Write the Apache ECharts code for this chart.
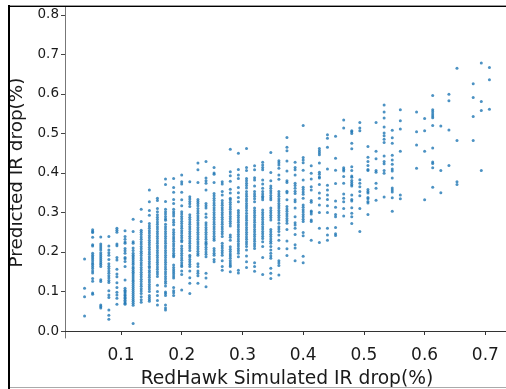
<!DOCTYPE html>
<html>
<head>
<meta charset="utf-8">
<style>
  html, body { margin: 0; padding: 0; background: #fff; }
  #main { width: 506px; height: 389px; }
</style>
</head>
<body>
<div id="main"></div>
<script src="https://cdn.jsdelivr.net/npm/echarts@6/dist/echarts.min.js"></script>
<script>
// x positions of the columns of points
var simulated = [
  0.04, 0.0533, 0.0667, 0.08, 0.0933, 0.1067, 0.12, 0.1333, 0.1467, 0.16,
  0.1733, 0.1867, 0.2, 0.2133, 0.2267, 0.24, 0.2533, 0.2667, 0.28, 0.2933,
  0.3067, 0.32, 0.3333, 0.3467, 0.36, 0.3733, 0.3867, 0.4, 0.4133, 0.4267,
  0.44, 0.4533, 0.4667, 0.48, 0.4933, 0.5067, 0.52, 0.5333, 0.5467, 0.56,
  0.5867, 0.6, 0.6133, 0.6267, 0.64, 0.6533, 0.68, 0.6933, 0.7067
];

// predicted values of each column, same order as simulated
var predicted = [
  [.182, .108, .087, .038],
  [.256, .252, .249, .237, .218, .215, .197, .192, .187, .183, .178, .172, .168, .163, .158, .152, .147, .133, .126, .096, .093],
  [.238, .22, .215, .21, .205, .198, .193, .188, .183, .178, .173, .168, .163, .13, .125, .066, .062, .058],
  [.239, .215, .205, .198, .192, .181, .17, .164, .158, .152, .146, .14, .134, .128, .123, .102, .091, .085, .053, .04, .03],
  [.26, .255, .25, .22, .216, .186, .18, .156, .144, .137, .122, .11, .098, .091, .083, .068],
  [.254, .239, .232, .225, .222, .209, .203, .197, .186, .183, .176, .163, .129, .108, .103, .1, .096, .092, .089, .085, .082, .078, .074, .07, .068],
  [.283, .252, .226, .222, .21, .204, .197, .192, .187, .183, .178, .173, .168, .162, .158, .153, .149, .144, .139, .134, .129, .125, .12, .115, .11, .105, .1, .095, .09, .085, .08, .075, .07, .065, .019],
  [.308, .277, .255, .25, .244, .238, .232, .226, .22, .214, .208, .202, .197, .191, .185, .179, .173, .167, .161, .155, .149, .143, .137, .131, .125, .119, .113, .107, .101, .095, .087, .079, .073],
  [.357, .327, .305, .293, .272, .266, .26, .254, .248, .242, .236, .23, .224, .218, .212, .206, .2, .194, .188, .182, .176, .17, .164, .16, .153, .148, .142, .136, .13, .124, .118, .112, .106, .1, .09, .085, .08, .075],
  [.336, .33, .31, .302, .294, .288, .282, .276, .27, .264, .258, .252, .246, .24, .234, .228, .222, .216, .21, .204, .198, .192, .186, .18, .174, .168, .162, .156, .15, .144, .138, .116, .1, .09, .077, .066],
  [.385, .371, .328, .308, .302, .296, .29, .284, .28, .27, .264, .258, .252, .246, .24, .234, .228, .222, .216, .21, .204, .198, .192, .186, .18, .174, .168, .162, .156, .15, .144, .138, .132, .126, .121, .114, .099, .095, .09, .066, .058, .053],
  [.386, .363, .351, .333, .323, .308, .302, .297, .291, .281, .275, .269, .256, .25, .244, .238, .233, .227, .221, .215, .209, .203, .197, .192, .188, .167, .161, .155, .15, .145, .139, .134, .11, .102, .097, .09],
  [.395, .378, .372, .351, .332, .317, .302, .296, .29, .284, .278, .272, .266, .26, .254, .248, .242, .236, .23, .226, .215, .209, .203, .197, .191, .185, .179, .173, .167, .163, .152, .143, .104],
  [.378, .34, .334, .328, .322, .315, .294, .288, .282, .276, .27, .264, .258, .252, .246, .24, .234, .228, .222, .216, .21, .204, .192, .187, .181, .175, .169, .163, .152, .135, .121, .095],
  [.425, .408, .376, .333, .328, .323, .317, .31, .304, .298, .292, .286, .28, .274, .268, .262, .256, .25, .244, .238, .232, .226, .22, .214, .208, .202, .196, .192, .17, .163, .152, .146, .14, .121],
  [.429, .387, .38, .374, .357, .323, .317, .311, .296, .288, .274, .268, .262, .256, .25, .244, .238, .232, .226, .222, .218, .212, .206, .2, .194, .188, .146, .134, .112],
  [.414, .4, .397, .376, .348, .342, .336, .33, .324, .318, .312, .306, .3, .294, .288, .282, .276, .27, .264, .258, .252, .246, .24, .234, .23, .209, .203, .197, .192, .181, .175],
  [.378, .372, .353, .344, .33, .324, .318, .312, .306, .3, .294, .288, .282, .276, .27, .264, .258, .252, .246, .239, .222, .216, .21, .204, .198, .192, .178, .163, .154],
  [.46, .403, .393, .379, .359, .349, .336, .332, .326, .32, .314, .308, .302, .296, .29, .284, .278, .272, .266, .243, .237, .23, .213, .207, .201, .195, .19, .184, .178, .172, .167, .163, .15],
  [.45, .409, .395, .386, .363, .35, .338, .327, .305, .299, .293, .287, .281, .275, .269, .263, .257, .251, .245, .239, .233, .227, .221, .215, .209, .203, .197, .188, .154, .147],
  [.462, .414, .406, .386, .38, .374, .368, .362, .353, .347, .341, .335, .329, .323, .317, .311, .305, .298, .292, .286, .28, .274, .268, .262, .256, .25, .244, .238, .232, .226, .22, .214, .205, .19, .175, .161],
  [.418, .408, .388, .382, .367, .353, .347, .341, .335, .327, .311, .305, .299, .293, .287, .281, .275, .269, .263, .257, .251, .245, .239, .233, .227, .221, .215, .209, .173, .163, .151],
  [.427, .42, .414, .408, .382, .372, .361, .353, .347, .341, .337, .332, .306, .3, .294, .288, .282, .276, .27, .264, .258, .252, .246, .24, .234, .226, .214, .186, .143],
  [.452, .401, .38, .367, .361, .355, .349, .343, .337, .332, .311, .305, .299, .293, .287, .281, .257, .251, .245, .239, .233, .227, .222, .214, .205, .197, .19, .184, .159, .146, .133],
  [.431, .426, .42, .412, .395, .384, .353, .347, .341, .335, .329, .323, .317, .311, .305, .299, .293, .287, .281, .273, .264, .258, .252, .243, .23, .209, .178, .172, .166, .142],
  [.49, .465, .456, .43, .405, .38, .376, .354, .35, .332, .315, .309, .303, .297, .291, .285, .279, .273, .257, .228, .208, .191],
  [.427, .414, .408, .395, .374, .368, .361, .354, .348, .332, .327, .311, .289, .274, .268, .26, .244, .218, .21, .178],
  [.52, .439, .433, .426, .407, .382, .364, .358, .352, .346, .336, .319, .313, .307, .301, .295, .289, .283, .277, .249, .241, .189, .173],
  [.418, .399, .385, .365, .357, .33, .326, .304, .301, .296, .281, .277, .23],
  [.462, .456, .451, .446, .425, .402, .397, .39, .387, .371, .349, .336, .319, .3, .26, .224],
  [.497, .488, .465, .41, .369, .357, .344, .333, .317, .3, .26, .243, .23],
  [.493, .437, .407, .373, .329, .313, .295, .289, .262, .246, .242],
  [.534, .514, .413, .409, .405, .391, .374, .347, .336, .327, .31, .291],
  [.507, .504, .5, .475, .461, .416, .406, .392, .389, .381, .376, .371, .367, .344, .333, .329, .312, .298, .289, .272],
  [.528, .514, .507, .383, .374, .365, .353, .342, .31, .252],
  [.467, .44, .429, .419, .409, .406, .358, .353, .349, .338, .335, .328, .324, .295],
  [.528, .455, .436, .406, .402, .374, .361, .331],
  [.572, .554, .539, .516, .501, .494, .485, .477, .443, .429, .423, .406, .399, .339],
  [.508, .489, .475, .445, .433, .422, .41, .405, .387, .362, .357, .352, .337, .303],
  [.56, .532, .511, .455, .344, .335],
  [.554, .504, .471, .412],
  [.538, .507, .455, .332],
  [.596, .56, .555, .549, .544, .54, .52, .463, .428, .424, .413, .364],
  [.519, .406, .35],
  [.599, .583, .509, .419],
  [.665, .482, .378, .371],
  [.626, .591, .543, .482],
  [.678, .581, .558, .406],
  [.667, .636, .561]
];

var xTicks = [0.1, 0.2, 0.3, 0.4, 0.5, 0.6, 0.7];
var yTicks = [0, 0.1, 0.2, 0.3, 0.4, 0.5, 0.6, 0.7, 0.8];

var points = [];
for (var i = 0; i < simulated.length; i++) {
  for (var j = 0; j < predicted[i].length; j++) {
    points.push([simulated[i], predicted[i][j]]);
  }
}

var mycharts = echarts.init(document.getElementById('main'));
var font = '"DejaVu Sans", sans-serif';

var option = {
  animation: false,
  backgroundColor: '#fff',
  grid: { left: 65, right: 0, top: 7, bottom: 51, outerBoundsMode: 'none' },
  xAxis: {
    type: 'value',
    min: 0.0078,
    max: 0.734,
    name: 'RedHawk Simulated IR drop(%)',
    nameLocation: 'middle',
    nameGap: 32,
    nameTextStyle: { fontFamily: font, fontSize: 18.7, color: '#1a1a1a', padding: [0, 0, 0, 3] },
    splitLine: { show: false },
    axisLine: { lineStyle: { color: '#333', width: 1 } },
    axisTick: { length: 4, customValues: xTicks, lineStyle: { color: '#333' } },
    axisLabel: {
      customValues: xTicks,
      margin: 9,
      fontFamily: font,
      fontSize: 17,
      color: '#1a1a1a',
      formatter: function(v) {
        return v.toFixed(1);
      },
    },
  },
  yAxis: {
    type: 'value',
    min: -0.0177,
    max: 0.82,
    name: 'Predicted IR drop(%)',
    nameLocation: 'middle',
    nameGap: 39,
    nameTextStyle: { fontFamily: font, fontSize: 18.4, color: '#1a1a1a' },
    splitLine: { show: false },
    axisLine: { show: true, lineStyle: { color: '#777', width: 1 } },
    axisTick: { show: true, length: 4, customValues: yTicks, lineStyle: { color: '#444' } },
    axisLabel: {
      customValues: yTicks,
      margin: 6,
      fontFamily: font,
      fontSize: 13.5,
      color: '#1a1a1a',
      formatter: function(v) {
        return v.toFixed(1);
      },
    },
  },
  series: [
    {
      type: 'scatter',
      data: points,
      symbol: 'circle',
      symbolSize: 3,
      itemStyle: { color: '#1f77b4' },
    },
  ],
  graphic: [
    // frame of the screenshot
    { type: 'rect', z: 100, shape: { x: 8, y: 5, width: 498, height: 1 }, style: { fill: '#999' } },
    { type: 'rect', z: 100, shape: { x: 8, y: 6, width: 498, height: 1 }, style: { fill: '#000' } },
    { type: 'rect', z: 100, shape: { x: 8, y: 5, width: 2, height: 384 }, style: { fill: '#000' } },
    { type: 'rect', z: 100, shape: { x: 10, y: 387, width: 496, height: 1 }, style: { fill: '#aaa' } },
    // hide the ticks echarts adds at the axis ends
    { type: 'rect', z: 99, shape: { x: 63, y: 339, width: 4, height: 6 }, style: { fill: '#fff' } },
    { type: 'rect', z: 99, shape: { x: 503, y: 339, width: 3, height: 6 }, style: { fill: '#fff' } },
    { type: 'rect', z: 99, shape: { x: 59, y: 7, width: 5.5, height: 2 }, style: { fill: '#fff' } },
    { type: 'rect', z: 99, shape: { x: 59, y: 337, width: 5.5, height: 3 }, style: { fill: '#fff' } },
  ],
};

mycharts.setOption(option);
</script>
</body>
</html>
